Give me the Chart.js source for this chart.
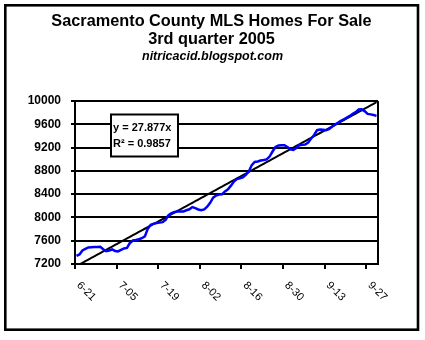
<!DOCTYPE html>
<html lang="en">
<head>
<meta charset="UTF-8">
<title>Sacramento County MLS Homes For Sale</title>
<script src="https://cdn.jsdelivr.net/npm/chart.js"></script>
<style>
  body { margin: 0; background: #fff; }
  #wrap { position: relative; width: 425px; height: 340px; }
</style>
</head>
<body>
<div id="wrap"><canvas id="mlsChart" width="425" height="340"></canvas></div>
<script>
// homes for sale, one value per day from 6-21-2005
const homesForSale = [
  7338, 7364, 7433, 7459, 7485, 7489, 7493, 7493, 7497, 7454,
  7419, 7433, 7450, 7424, 7416, 7442, 7467, 7476, 7562, 7605,
  7614, 7626, 7643, 7674, 7804, 7873, 7893, 7902, 7912, 7919,
  7959, 8040, 8075, 8094, 8102, 8102, 8102, 8123, 8140, 8178,
  8161, 8137, 8123, 8138, 8185, 8252, 8339, 8376, 8392, 8399,
  8447, 8482, 8546, 8615, 8658, 8673, 8687, 8730, 8787, 8899,
  8953, 8960, 8977, 8985, 8997, 9046, 9132, 9210, 9237, 9241,
  9241, 9210, 9170, 9159, 9193, 9241, 9250, 9253, 9286, 9356,
  9417, 9499, 9510, 9508, 9498, 9515, 9558, 9594, 9625, 9658,
  9687, 9715, 9743, 9781, 9808, 9853, 9857, 9827, 9779, 9770,
  9760, 9744
];
const startDate = new Date(2005, 5, 21);
const labelEvery = 14;      // 6-21, 7-05, 7-19 ...
const yMin = 7200, yMax = 10000, yStep = 400;

// linear trend from the chart: y = 27.877x, R^2 = 0.9857
const trendSlope = 27.877;
const trendX0 = 257;        // x of the first day
const rSquared = 0.9857;

const titleLines = ['Sacramento County MLS Homes For Sale', '3rd quarter 2005'];
const subTitle = 'nitricacid.blogspot.com';

const FONT = '"Liberation Sans", Arial, sans-serif';

const dates = [];
for (let i = 0; i < homesForSale.length; i++) {
  const d = new Date(startDate);
  d.setDate(d.getDate() + i);
  dates.push((d.getMonth() + 1) + '-' + String(d.getDate()).padStart(2, '0'));
}
const trend = dates.map((d, i) => trendSlope * (trendX0 + i));

// frame, titles, rotated date labels and the equation box
const decorations = {
  id: 'decorations',
  afterDraw(chart) {
    const ctx = chart.ctx;
    const area = chart.chartArea;
    const xScale = chart.scales.x;
    ctx.save();

    // outer frame
    ctx.strokeStyle = '#000';
    ctx.lineWidth = 2.6;
    ctx.strokeRect(5.3, 5.3, 412.7, 324.4);

    // right edge of the plot area
    ctx.lineWidth = 2;
    ctx.beginPath();
    ctx.moveTo(area.right, area.top);
    ctx.lineTo(area.right, area.bottom);
    ctx.stroke();

    // titles
    ctx.fillStyle = '#000';
    ctx.textAlign = 'center';
    ctx.textBaseline = 'middle';
    ctx.font = 'bold 16.3px ' + FONT;
    ctx.fillText(titleLines[0], 211.5, 21.5);
    ctx.fillText(titleLines[1], 211.5, 40);
    ctx.font = 'italic bold 12.5px ' + FONT;
    ctx.fillText(subTitle, 212.5, 57);

    // date labels, rotated down to the right
    ctx.font = '11px ' + FONT;
    ctx.textAlign = 'left';
    xScale.ticks.forEach((t, i) => {
      if (i % labelEvery !== 0) return;
      const x = xScale.getPixelForTick(i) + 2;
      ctx.save();
      ctx.translate(x, 283.5);
      ctx.rotate(Math.PI / 4);
      ctx.fillText(dates[i], 0, 0);
      ctx.restore();
    });

    // trendline equation box
    ctx.fillStyle = '#fff';
    ctx.fillRect(111, 114.5, 67, 42);
    ctx.strokeStyle = '#000';
    ctx.lineWidth = 2;
    ctx.strokeRect(111, 114.5, 67, 42);
    ctx.fillStyle = '#000';
    ctx.font = 'bold 11px ' + FONT;
    ctx.fillText('y = ' + trendSlope + 'x', 113, 127.5);
    ctx.fillText('R\u00B2 = ' + rSquared, 113, 143.5);

    ctx.restore();
  }
};

new Chart(document.getElementById('mlsChart'), {
  type: 'line',
  data: {
    labels: dates,
    datasets: [
      {
        label: 'Homes for sale',
        data: homesForSale,
        borderColor: '#0000ff',
        borderWidth: 2.5,
        pointRadius: 0,
        tension: 0
      },
      {
        label: 'Linear trend',
        data: trend,
        borderColor: '#000',
        borderWidth: 2,
        pointRadius: 0,
        tension: 0
      }
    ]
  },
  options: {
    responsive: false,
    animation: false,
    layout: { padding: { top: 101, right: 47, bottom: 56, left: 0 } },
    plugins: {
      legend: { display: false },
      tooltip: { enabled: false }
    },
    scales: {
      x: {
        type: 'category',
        offset: true,
        grid: {
          offset: true,
          drawOnChartArea: false,
          tickLength: 5,
          lineWidth: 2,
          color: c => (c.index % labelEvery === 0 ? '#000' : 'rgba(0,0,0,0)')
        },
        border: { color: '#000', width: 2 },
        ticks: { display: false, autoSkip: false },
        afterFit: s => { s.height = 20; }
      },
      y: {
        min: yMin,
        max: yMax,
        ticks: {
          stepSize: yStep,
          padding: 10,
          color: '#000',
          font: { family: FONT, size: 12, weight: 'bold' },
          callback: v => String(v)
        },
        grid: { color: '#000', lineWidth: 2, tickLength: 4 },
        border: { color: '#000', width: 2 },
        afterFit: s => { s.width = 75; }
      }
    }
  },
  plugins: [decorations]
});
</script>
</body>
</html>
